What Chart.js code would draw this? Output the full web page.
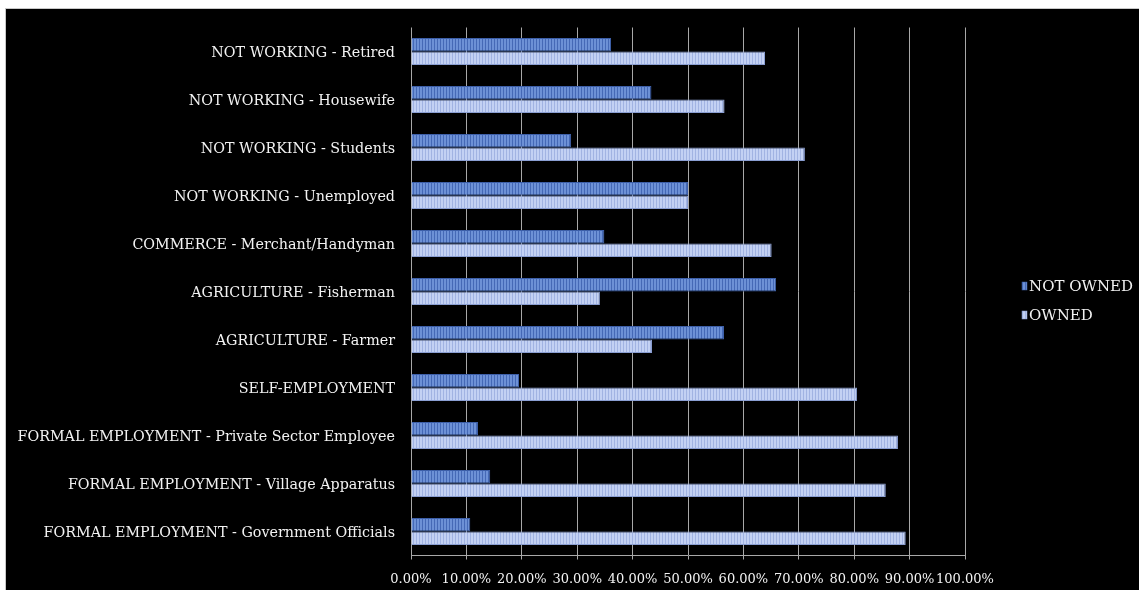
<!DOCTYPE html>
<html>
<head>
<meta charset="utf-8">
<script src="https://cdn.jsdelivr.net/npm/chart.js@4/dist/chart.umd.min.js"></script>
<style>
  html, body { margin: 0; padding: 0; background: #ffffff; }
  #frame {
    position: absolute; left: 5px; top: 8px;
    width: 1134px; height: 582px;
    background: #000000;
    border-left: 1px solid #c8c8c8; border-top: 1px solid #c8c8c8;
  }
  canvas { display: block; }
</style>
</head>
<body>
<div id="frame"><canvas id="chart" width="1133" height="581"></canvas></div>
<script>
// Occupation categories, listed top to bottom
const categories = [
  'NOT WORKING - Retired',
  'NOT WORKING - Housewife',
  'NOT WORKING - Students',
  'NOT WORKING - Unemployed',
  'COMMERCE - Merchant/Handyman',
  'AGRICULTURE - Fisherman',
  'AGRICULTURE - Farmer',
  'SELF-EMPLOYMENT',
  'FORMAL EMPLOYMENT - Private Sector Employee',
  'FORMAL EMPLOYMENT - Village Apparatus',
  'FORMAL EMPLOYMENT - Government Officials'
];

// Share of respondents (%) per category
const notOwned = [36.1, 43.4, 28.9, 50.0, 34.9, 65.9, 56.5, 19.5, 12.1, 14.3, 10.7];
const owned    = [63.9, 56.6, 71.1, 50.0, 65.1, 34.1, 43.5, 80.5, 87.9, 85.7, 89.3];

const seriesNames = ['NOT OWNED', 'OWNED'];
const xTicks = [0, 10, 20, 30, 40, 50, 60, 70, 80, 90, 100];

// Vertical pin-stripe fill for the bars
function stripes(base, line) {
  const c = document.createElement('canvas');
  c.width = 3; c.height = 4;
  const g = c.getContext('2d');
  g.fillStyle = base; g.fillRect(0, 0, 3, 4);
  g.fillStyle = line; g.fillRect(2, 0, 1, 4);
  return g.createPattern(c, 'repeat');
}

const textColor = '#f2f2f2';
const serif = 'DejaVu Serif';
const gridColor = '#a8a8a8';

// Legend drawn to the right of the plot: small bar swatch + series name
const sideLegend = {
  id: 'sideLegend',
  afterDraw(chart) {
    const ctx = chart.ctx;
    const area = chart.chartArea;
    const x = area.right + 57;
    const midY = chart.height / 2 + 1;
    const step = 29;
    ctx.save();
    ctx.font = '15px "' + serif + '"';
    ctx.textBaseline = 'middle';
    ctx.textAlign = 'left';
    chart.data.datasets.forEach((ds, i) => {
      const y = midY + (i - (chart.data.datasets.length - 1) / 2) * step;
      ctx.fillStyle = ds.backgroundColor;
      ctx.fillRect(x, y - 4, 5, 8);
      ctx.strokeStyle = ds.borderColor;
      ctx.lineWidth = 0.5;
      ctx.strokeRect(x, y - 4, 5, 8);
      ctx.fillStyle = textColor;
      ctx.fillText(ds.label, x + 7, y + 1);
    });
    ctx.restore();
  }
};

new Chart(document.getElementById('chart'), {
  type: 'bar',
  data: {
    labels: categories,
    datasets: [
      {
        label: seriesNames[0],
        data: notOwned,
        backgroundColor: stripes('#6d91d6', '#4569b6'),
        borderColor: '#3d5fa8',
        borderWidth: 1,
        barPercentage: 1.0,
        categoryPercentage: 0.565
      },
      {
        label: seriesNames[1],
        data: owned,
        backgroundColor: stripes('#c3d1f3', '#a1b3e2'),
        borderColor: '#8a9ed2',
        borderWidth: 1,
        barPercentage: 1.0,
        categoryPercentage: 0.565
      }
    ]
  },
  options: {
    indexAxis: 'y',
    responsive: false,
    animation: false,
    layout: { padding: { left: 0, top: 18.5, right: 174, bottom: 0 } },
    scales: {
      x: {
        min: 0, max: 100,
        afterBuildTicks: (scale) => { scale.ticks = xTicks.map(v => ({ value: v })); },
        afterFit: (scale) => { scale.height = 34.5; },
        ticks: {
          color: textColor,
          font: { family: serif, size: 13 },
          padding: 12,
          autoSkip: false,
          maxRotation: 0,
          callback: (v) => Number(v).toFixed(2) + '%'
        },
        grid: { color: gridColor, lineWidth: 1, tickLength: 4, drawTicks: true },
        border: { color: gridColor }
      },
      y: {
        afterFit: (scale) => {
          scale.width = 405;
          scale.paddingTop = 0;
          scale.paddingBottom = 0;
        },
        ticks: {
          color: textColor,
          font: { family: serif, size: 14.3 },
          padding: 16,
          labelOffset: 2
        },
        grid: { display: false, drawTicks: false },
        border: { display: false }
      }
    },
    plugins: {
      legend: { display: false },
      tooltip: { enabled: false }
    }
  },
  plugins: [sideLegend]
});
</script>
</body>
</html>
